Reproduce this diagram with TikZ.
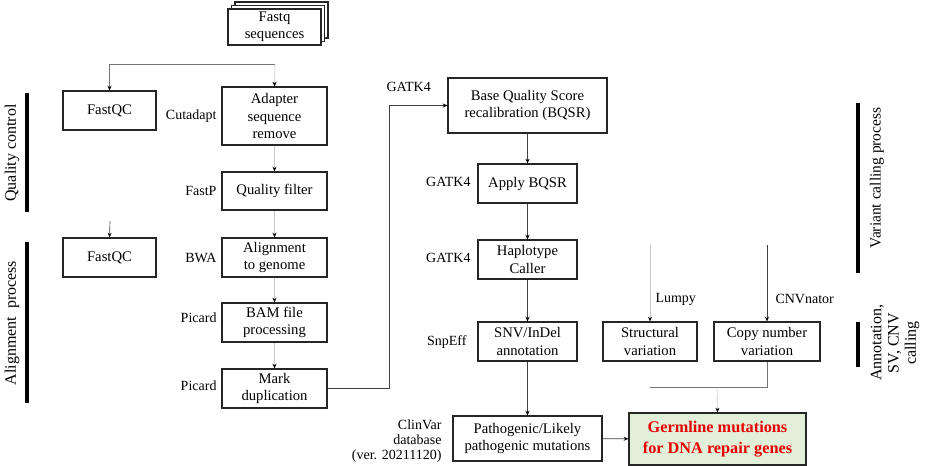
\documentclass[tikz,border=0pt]{standalone}
\usepackage{fontspec}
\setmainfont{Liberation Serif}
\usetikzlibrary{arrows.meta}

\definecolor{germfill}{RGB}{226,239,217}
\definecolor{germred}{RGB}{232,0,0}

\tikzset{every picture/.style={line width=0.75pt}}
\tikzset{
  stepbox/.style={draw=black!85, line width=0.9pt, rectangle, align=center, inner sep=0pt, font=\fontsize{11}{13}\selectfont},
  leftbox/.style={stepbox, minimum width=78.75pt, minimum height=29.25pt},
  qcbox/.style={stepbox, minimum width=69.75pt, minimum height=29.25pt},
  midbox/.style={stepbox, minimum width=74.25pt, minimum height=29.25pt},
  toollabel/.style={inner sep=0pt, font=\fontsize{10.5}{12}\selectfont},
  flow/.style={draw=black!75, line width=0.5pt, -{Stealth[length=3.5pt,width=3pt,black]}},
  faint/.style={draw=black!22, line width=0.5pt, -{Stealth[length=3.5pt,width=3pt,black]}},
  sidebar/.style={line width=3.6pt},
  sidelabel/.style={rotate=90, inner sep=0pt, align=center, font=\fontsize{12}{13}\selectfont},
}

\begin{document}
\begin{tikzpicture}[x=0.75pt,y=0.75pt,yscale=-1,xscale=1]
\useasboundingbox (0,0) rectangle (934,466);

%Fastq stack
\node [stepbox, fill=white, minimum width=69.75pt, minimum height=27pt] (fastq3) at (281.5,20) {};
\node [stepbox, fill=white, minimum width=69.75pt, minimum height=27pt] (fastq2) at (278,23.5) {};
\node [stepbox, fill=white, minimum width=69.75pt, minimum height=27pt] (fastq) at (274.5,27) {Fastq\\sequences};

%Quality control column
\node [qcbox] (fastqc1) at (109.5,110.5) {FastQC};
\node [leftbox, minimum height=43.5pt] (adapter) at (274.5,116) {Adapter\\sequence\\remove};
\node [leftbox, minimum height=28.5pt] (qfilter) at (274.5,191) {Quality filter};

%Alignment column
\node [qcbox] (fastqc2) at (109.5,257.5) {FastQC};
\node [leftbox] (align) at (274.5,257.5) {Alignment\\to genome};
\node [leftbox] (bam) at (274.5,322.5) {BAM file\\processing};
\node [leftbox] (markdup) at (274.5,388.5) {Mark\\duplication};

%Variant calling column
\node [stepbox, minimum width=119.25pt, minimum height=41.25pt] (bqsr) at (527.5,105.5) {Base Quality Score\\recalibration (BQSR)};
\node [midbox] (apply) at (527.5,183.5) {Apply BQSR};
\node [midbox] (haplo) at (527.5,259.5) {Haplotype\\Caller};
\node [midbox] (snv) at (527.5,341.5) {SNV/InDel\\annotation};
\node [stepbox, minimum width=111.75pt, minimum height=33.75pt] (patho) at (527.5,438.5) {Pathogenic/Likely\\pathogenic mutations};

%SV and CNV
\node [stepbox, minimum width=70.5pt, minimum height=29.25pt] (sv) at (650,341.5) {Structural\\variation};
\node [stepbox, minimum width=79.5pt, minimum height=29.25pt] (cnv) at (767,341.5) {Copy number\\variation};

%Result
\node [stepbox, fill=germfill, minimum width=132.75pt, minimum height=39pt, text=germred, font=\fontsize{12.2}{15.5}\selectfont\bfseries] (germ) at (717.5,439) {Germline mutations\\for DNA repair genes};

% Tool labels
\node [toollabel, anchor=east] (cutadapt) at (217,116) {Cutadapt};
\node [toollabel, anchor=east] (fastp) at (217,191) {FastP};
\node [toollabel, anchor=east] (bwa) at (217,258) {BWA};
\node [toollabel, anchor=east] (picard1) at (217,318) {Picard};
\node [toollabel, anchor=east] (picard2) at (217,386) {Picard};
\node [toollabel, anchor=west] (gatk1) at (386,87) {GATK4};
\node [toollabel, anchor=east] (gatk2) at (471,182) {GATK4};
\node [toollabel, anchor=east] (gatk3) at (471,258) {GATK4};
\node [toollabel, anchor=east] (snpeff) at (467,342) {SnpEff};
\node [toollabel, anchor=east, align=right, font=\fontsize{10.5}{11}\selectfont] (clinvar) at (442,441) {ClinVar\\database\\(ver. 20211120)};
\node [toollabel, anchor=west] (lumpy) at (655,299) {Lumpy};
\node [toollabel, anchor=west] (cnvnator) at (775,299) {CNVnator};

% Side bars and labels
\draw [sidebar] (27,93) -- (27,212);
\node [sidelabel] (qclabel) at (12,153) {Quality control};
\draw [sidebar] (27,242) -- (27,403);
\node [sidelabel] (alnlabel) at (12,323) {Alignment\ \ process};
\draw [sidebar] (858,103) -- (858,273);
\node [sidelabel, font=\fontsize{11.6}{13}\selectfont] (vclabel) at (877,178) {Variant calling process};
\draw [sidebar] (858,322) -- (858,367);
\node [sidelabel] (annlabel) at (895,343) {Annotation,\\SV, CNV\\calling};

% Connectors
\coordinate (split) at (275,64);
\coordinate (qc2in) at (110,221);
\coordinate (lumpyin) at (650,245);
\coordinate (cnvin) at (767,245);
\coordinate (mergeL) at (650,387);
\coordinate (mergeR) at (767,387);
\coordinate (mergeC) at (717,387);

\draw [flow, draw=black!55] (split) -| (fastqc1.north);
\draw [faint] (split) -- (adapter.north);
\draw [faint] (adapter) -- (qfilter);
\draw [flow] (qc2in) -- (fastqc2.north);
\draw [faint] (qfilter) -- (align);
\draw [faint] (align) -- (bam);
\draw [faint] (bam) -- (markdup);
\draw [flow] (markdup.east) -- ++(62,0) |- (bqsr.west);
\draw [flow] (bqsr) -- (apply);
\draw [flow] (apply) -- (haplo);
\draw [flow] (haplo) -- (snv);
\draw [flow] (snv) -- (patho);
\draw [flow] (patho) -- (germ);
\draw [faint] (lumpyin) -- (sv.north);
\draw [flow] (cnvin) -- (cnv.north);
\draw [draw=black!55, line width=0.5pt] (cnv.south) -- (mergeR) -- (mergeL);
\draw [faint] (mergeC) -- (germ.north);

\end{tikzpicture}
\end{document}
